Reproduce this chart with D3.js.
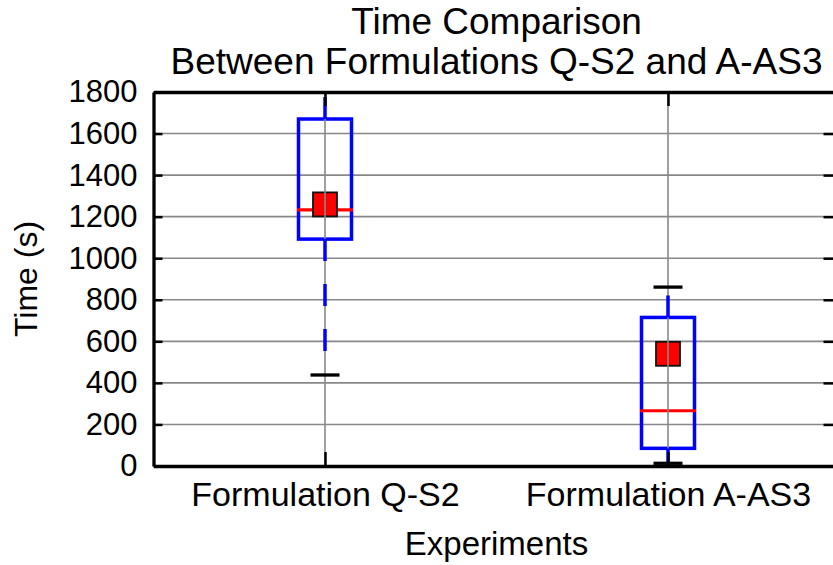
<!DOCTYPE html>
<html>
<head>
<meta charset="utf-8">
<script src="https://cdn.jsdelivr.net/npm/d3@7"></script>
<style>
  body { margin: 0; background: #fff; }
  svg { display: block; font-family: "Liberation Sans", Arial, sans-serif; }
</style>
</head>
<body>
<svg id="chart" width="833" height="565"></svg>
<script>
const categories = ["Formulation Q-S2", "Formulation A-AS3"];
const whiskerLow = [438, 13];
const q1 = [1092, 85];
const median = [1233, 266];
const q3 = [1670, 715];
const whiskerHigh = [1880, 861];
const mean = [1259, 540];
const yTicks = [0, 200, 400, 600, 800, 1000, 1200, 1400, 1600, 1800];

const plotLeft = 153.5, plotRight = 839.5, plotTop = 92, plotBottom = 466;
const blue = "#0000ff";
const red = "#ff0000";
const grid = "#888";

const data = categories.map((c, i) => ({
  cat: c, lo: whiskerLow[i], q1: q1[i], med: median[i], q3: q3[i], hi: whiskerHigh[i], mean: mean[i]
}));

const svg = d3.select("#chart");

const x = d3.scalePoint().domain(categories).range([plotLeft, plotRight]).padding(0.5);
const y = d3.scaleLinear().domain([0, 1800]).range([plotBottom, plotTop]);

const boxW = 53;
const capW = 29;
const sq = 24;

svg.append("defs").append("clipPath").attr("id", "plot")
  .append("rect").attr("x", plotLeft).attr("y", plotTop)
  .attr("width", plotRight - plotLeft).attr("height", plotBottom - plotTop);

// grid
svg.append("g").selectAll("line").data(yTicks).enter().append("line")
  .attr("x1", plotLeft).attr("x2", plotRight)
  .attr("y1", d => y(d)).attr("y2", d => y(d))
  .attr("stroke", grid).attr("stroke-width", 1.6);

const under = svg.append("g").attr("clip-path", "url(#plot)");

// boxes
under.selectAll("rect.box").data(data).enter().append("rect")
  .attr("class", "box")
  .attr("x", d => x(d.cat) - boxW / 2)
  .attr("y", d => y(d.q3))
  .attr("width", boxW)
  .attr("height", d => y(d.q1) - y(d.q3))
  .attr("fill", "none").attr("stroke", blue).attr("stroke-width", 3.5);

// medians
under.selectAll("line.med").data(data).enter().append("line")
  .attr("class", "med")
  .attr("x1", d => x(d.cat) - boxW / 2 - 1.5).attr("x2", d => x(d.cat) + boxW / 2 + 1.5)
  .attr("y1", d => y(d.med)).attr("y2", d => y(d.med))
  .attr("stroke", red).attr("stroke-width", 3.2);

// means
under.selectAll("rect.mean").data(data).enter().append("rect")
  .attr("class", "mean")
  .attr("x", d => x(d.cat) - sq / 2)
  .attr("y", d => y(d.mean) - sq / 2)
  .attr("width", sq).attr("height", sq)
  .attr("fill", red).attr("stroke", "#111").attr("stroke-width", 1.8);

// vertical grid
svg.append("g").selectAll("line").data(categories).enter().append("line")
  .attr("x1", d => x(d)).attr("x2", d => x(d))
  .attr("y1", plotTop).attr("y2", plotBottom)
  .attr("stroke", grid).attr("stroke-width", 1.6);

const over = svg.append("g").attr("clip-path", "url(#plot)");

// whiskers (dashed, starting from the box)
over.selectAll("line.wlo").data(data).enter().append("line")
  .attr("class", "wlo")
  .attr("x1", d => x(d.cat)).attr("x2", d => x(d.cat))
  .attr("y1", d => y(d.q1)).attr("y2", d => y(d.lo))
  .attr("stroke", blue).attr("stroke-width", 3.5).attr("stroke-dasharray", "22,23");
over.selectAll("line.whi").data(data).enter().append("line")
  .attr("class", "whi")
  .attr("x1", d => x(d.cat)).attr("x2", d => x(d.cat))
  .attr("y1", d => y(d.q3)).attr("y2", d => y(d.hi))
  .attr("stroke", blue).attr("stroke-width", 3.5).attr("stroke-dasharray", "22,23");

// caps
const caps = data.flatMap(d => [{ cat: d.cat, v: d.lo }, { cat: d.cat, v: d.hi }]);
over.selectAll("line.cap").data(caps).enter().append("line")
  .attr("class", "cap")
  .attr("x1", d => x(d.cat) - capW / 2).attr("x2", d => x(d.cat) + capW / 2)
  .attr("y1", d => y(d.v)).attr("y2", d => y(d.v))
  .attr("stroke", "#000").attr("stroke-width", 3.3);

// Axis
const yAxisL = d3.axisLeft(y).tickValues(yTicks).tickSize(-9).tickSizeOuter(0).tickPadding(16).tickFormat(d => d);
const yAxisR = d3.axisRight(y).tickValues(yTicks).tickSize(-16).tickSizeOuter(0).tickFormat("");
const xAxisB = d3.axisBottom(x).tickSize(-14).tickSizeOuter(0).tickPadding(16);
const xAxisT = d3.axisTop(x).tickSize(-14).tickSizeOuter(0).tickFormat("");

function style(g, fs) {
  g.select(".domain").attr("stroke", "#000").attr("stroke-width", 3.3);
  g.selectAll(".tick line").attr("stroke", "#000").attr("stroke-width", 2.5);
  g.selectAll(".tick text").attr("fill", "#000").attr("font-size", fs);
  g.attr("font-family", null).attr("font-size", null);
}

svg.append("g").attr("transform", `translate(0,${plotBottom})`).call(xAxisB).call(g => style(g, 34));
svg.append("g").attr("transform", `translate(0,${plotTop})`).call(xAxisT).call(g => style(g, 34));
svg.append("g").attr("transform", `translate(${plotRight},0)`).call(yAxisR).call(g => style(g, 31));
svg.append("g").attr("transform", `translate(${plotLeft},0)`).call(yAxisL).call(g => style(g, 31));

// labels
const mid = (plotLeft + plotRight) / 2;
const title = svg.append("text").attr("text-anchor", "middle").attr("font-size", 37).attr("fill", "#000");
title.append("tspan").attr("x", mid).attr("y", 33.5).text("Time Comparison");
title.append("tspan").attr("x", mid).attr("y", 74).text("Between Formulations Q-S2 and A-AS3");

svg.append("text").attr("text-anchor", "middle").attr("font-size", 33)
  .attr("x", mid).attr("y", 555).text("Experiments");

svg.append("text").attr("text-anchor", "middle").attr("font-size", 32)
  .attr("transform", `translate(36.5,${(plotTop + plotBottom) / 2}) rotate(-90)`).text("Time (s)");
</script>
</body>
</html>
